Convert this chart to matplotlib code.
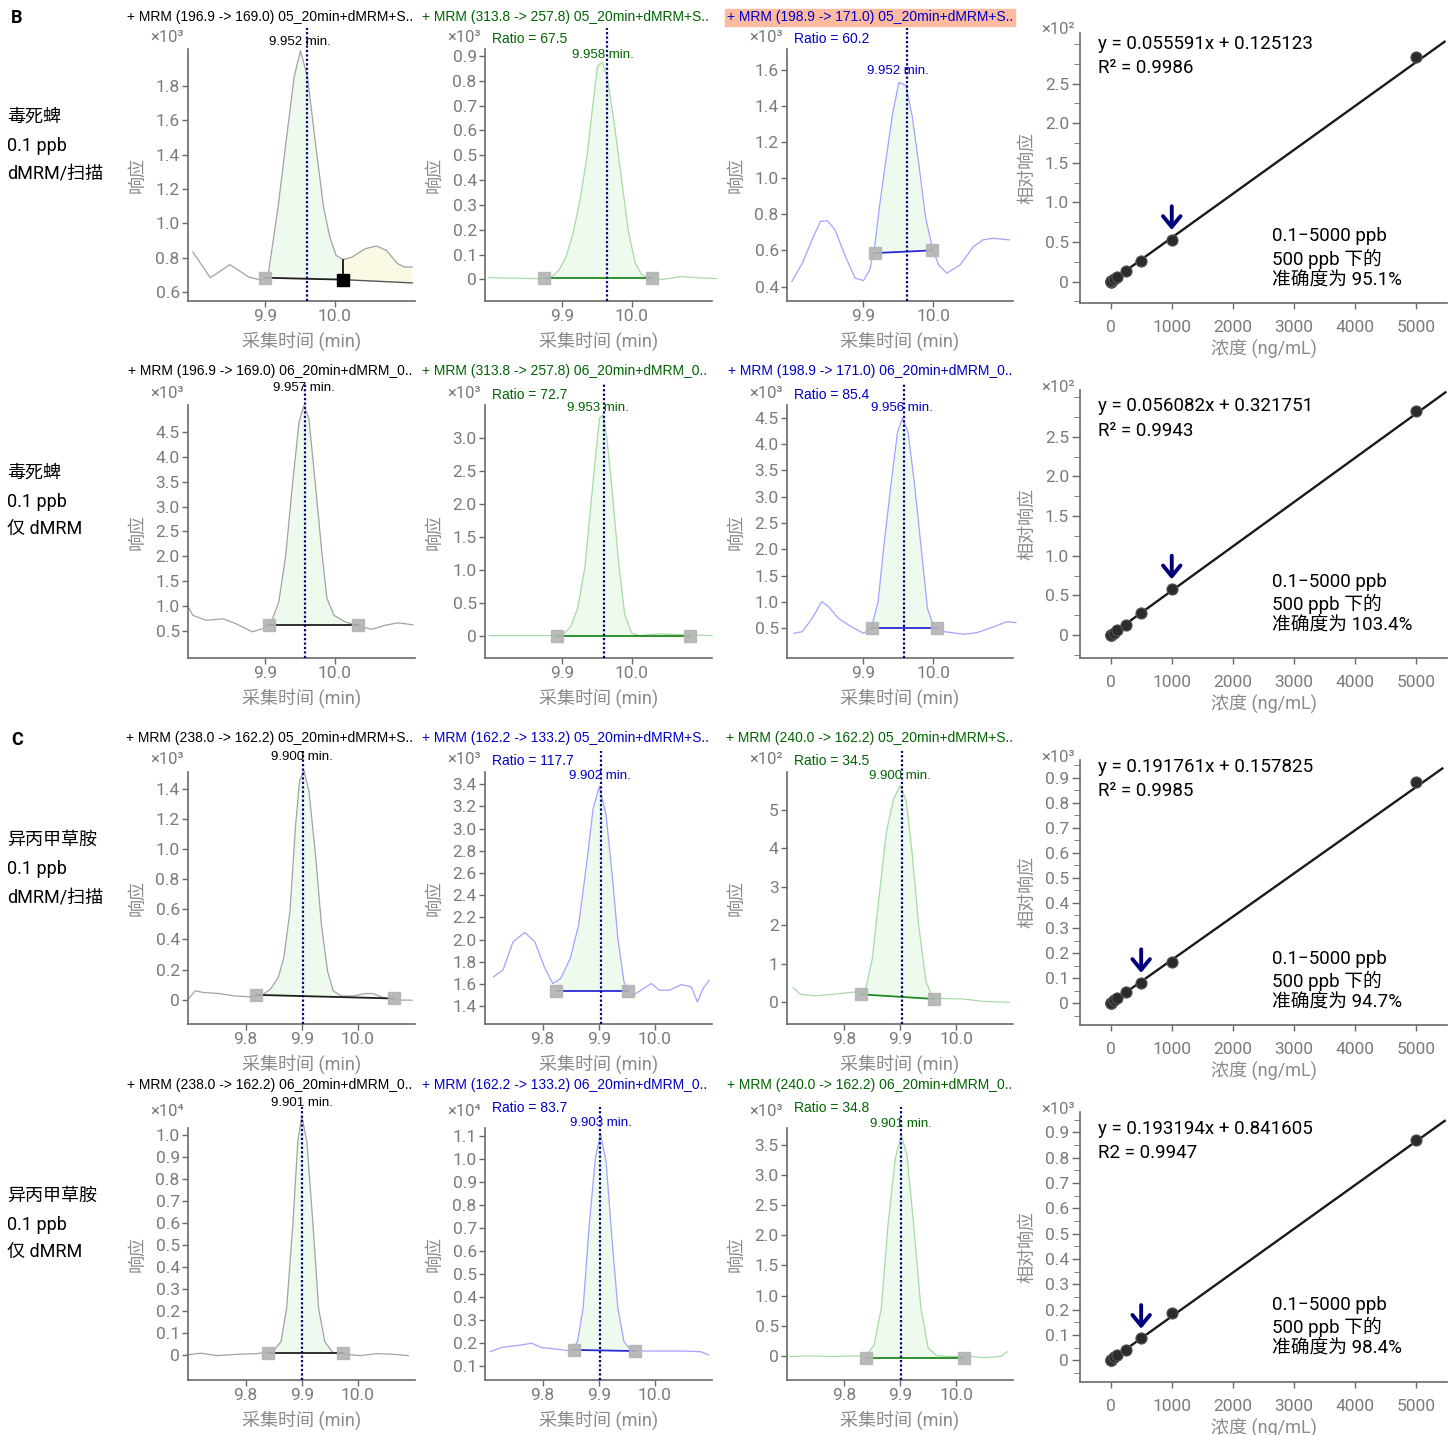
import numpy as np
import matplotlib
matplotlib.use("Agg")
import matplotlib.pyplot as plt
from matplotlib.ticker import MultipleLocator

W, H = 1456, 1435
plt.rcParams["font.family"] = ["Roboto", "Noto Sans CJK SC", "DejaVu Sans"]
NARROW = ["Liberation Sans Narrow", "Liberation Sans", "DejaVu Sans"]

# ---------------- chromatogram traces (time min, response) ----------------
# row 1: chlorpyrifos, dMRM/scan
r1c1_t = [9.797, 9.822, 9.850, 9.877, 9.896, 9.905, 9.919, 9.933, 9.942, 9.951, 9.961, 9.972,
          9.984, 9.993, 10.002, 10.012, 10.025, 10.044, 10.060, 10.074, 10.090, 10.100, 10.111]
r1c1_y = [0.834, 0.685, 0.761, 0.689, 0.670, 0.709, 1.096, 1.561, 1.852, 2.003, 1.852, 1.484,
          1.096, 0.922, 0.815, 0.790, 0.805, 0.854, 0.869, 0.844, 0.767, 0.747, 0.747]
r1c2_t = [9.795, 9.832, 9.866, 9.886, 9.896, 9.906, 9.916, 9.926, 9.936, 9.943, 9.951, 9.958,
          9.965, 9.975, 9.985, 9.995, 10.005, 10.015, 10.027, 10.045, 10.069, 10.094, 10.121]
r1c2_y = [0.007, 0.005, 0.003, 0.011, 0.038, 0.091, 0.185, 0.320, 0.495, 0.669, 0.858, 0.874,
          0.817, 0.629, 0.414, 0.199, 0.065, 0.017, 0.003, 0.0, 0.011, 0.007, 0.003]
r1c3_t = [9.797, 9.812, 9.826, 9.838, 9.848, 9.859, 9.874, 9.888, 9.900, 9.909, 9.916, 9.923,
          9.933, 9.942, 9.951, 9.961, 9.970, 9.980, 9.989, 9.999, 10.008, 10.020, 10.039,
          10.058, 10.072, 10.086, 10.110]
r1c3_y = [0.428, 0.529, 0.658, 0.760, 0.764, 0.714, 0.566, 0.446, 0.433, 0.492, 0.621, 0.843,
          1.120, 1.360, 1.530, 1.512, 1.342, 1.065, 0.788, 0.612, 0.520, 0.474, 0.520,
          0.621, 0.658, 0.667, 0.658]
# row 2: chlorpyrifos, dMRM only
r2c1_t = [9.789, 9.797, 9.816, 9.840, 9.859, 9.882, 9.899, 9.911, 9.920, 9.930, 9.939, 9.949,
          9.956, 9.963, 9.973, 9.982, 9.989, 9.999, 10.015, 10.039, 10.053, 10.072, 10.091, 10.112]
r2c1_y = [1.02, 0.82, 0.72, 0.75, 0.65, 0.49, 0.56, 0.75, 1.09, 2.03, 3.36, 4.70,
          5.02, 4.77, 3.36, 2.03, 1.16, 0.82, 0.69, 0.59, 0.54, 0.62, 0.67, 0.63]
r2c2_t = [9.796, 9.885, 9.904, 9.913, 9.923, 9.933, 9.940, 9.947, 9.954, 9.959, 9.964, 9.971,
          9.981, 9.990, 10.000, 10.010, 10.038, 10.067, 10.115]
r2c2_y = [0.0, 0.0, 0.04, 0.14, 0.43, 1.04, 1.81, 2.58, 3.30, 3.35, 3.04, 2.32,
          1.14, 0.32, 0.04, 0.0, 0.026, 0.015, 0.0]
r2c3_t = [9.800, 9.812, 9.826, 9.840, 9.850, 9.864, 9.883, 9.900, 9.911, 9.921, 9.930, 9.940,
          9.949, 9.956, 9.964, 9.973, 9.982, 9.992, 10.001, 10.016, 10.044, 10.063, 10.087,
          10.106, 10.119]
r2c3_y = [0.41, 0.44, 0.69, 1.01, 0.91, 0.69, 0.53, 0.41, 0.50, 1.01, 2.15, 3.28,
          4.23, 4.49, 4.23, 3.28, 2.15, 0.88, 0.53, 0.44, 0.39, 0.42, 0.53, 0.63, 0.61]
# row 3: metolachlor, dMRM/scan
r3c1_t = [9.697, 9.710, 9.724, 9.752, 9.780, 9.808, 9.830, 9.844, 9.858, 9.868, 9.879, 9.889,
          9.896, 9.904, 9.913, 9.925, 9.935, 9.946, 9.956, 9.970, 9.992, 10.013, 10.027,
          10.048, 10.076, 10.097]
r3c1_y = [0.004, 0.06, 0.049, 0.042, 0.026, 0.02, 0.033, 0.071, 0.148, 0.28, 0.59, 1.16,
          1.45, 1.52, 1.38, 0.94, 0.50, 0.19, 0.06, 0.026, 0.026, 0.042, 0.042,
          0.011, -0.002, -0.002]
r3c2_t = [9.712, 9.729, 9.747, 9.768, 9.786, 9.804, 9.818, 9.832, 9.849, 9.864, 9.878, 9.890,
          9.901, 9.913, 9.924, 9.934, 9.945, 9.955, 9.966, 9.980, 9.994, 10.008, 10.026,
          10.047, 10.065, 10.076, 10.086, 10.097]
r3c2_y = [1.665, 1.725, 1.980, 2.065, 1.980, 1.740, 1.604, 1.650, 1.830, 2.131, 2.672, 3.183,
          3.379, 3.123, 2.582, 2.011, 1.620, 1.484, 1.514, 1.559, 1.605, 1.544, 1.544,
          1.595, 1.574, 1.439, 1.559, 1.635]
r3c3_t = [9.708, 9.721, 9.746, 9.779, 9.804, 9.825, 9.838, 9.850, 9.863, 9.875, 9.888, 9.900,
          9.911, 9.921, 9.933, 9.946, 9.958, 9.979, 10.013, 10.046, 10.096]
r3c3_y = [0.39, 0.21, 0.17, 0.21, 0.25, 0.28, 0.36, 1.14, 2.87, 4.42, 5.28, 5.63,
          5.20, 3.90, 2.00, 0.54, 0.12, 0.10, 0.09, 0.03, 0.0]
# row 4: metolachlor, dMRM only
r4c1_t = [9.693, 9.720, 9.749, 9.784, 9.820, 9.848, 9.863, 9.873, 9.884, 9.893, 9.900, 9.909,
          9.920, 9.930, 9.941, 9.955, 9.977, 10.005, 10.033, 10.062, 10.090]
r4c1_y = [0.0, 0.008, -0.003, 0.003, 0.006, 0.015, 0.061, 0.213, 0.593, 0.973, 1.087, 0.973,
          0.593, 0.213, 0.061, 0.012, 0.003, -0.003, 0.006, 0.003, -0.003]
r4c2_t = [9.706, 9.727, 9.755, 9.780, 9.798, 9.826, 9.851, 9.862, 9.872, 9.883, 9.894, 9.903,
          9.913, 9.923, 9.934, 9.945, 9.957, 9.982, 10.018, 10.053, 10.082, 10.096]
r4c2_y = [0.162, 0.181, 0.189, 0.199, 0.180, 0.173, 0.165, 0.206, 0.351, 0.715, 1.006, 1.110,
          0.991, 0.671, 0.351, 0.206, 0.170, 0.165, 0.165, 0.165, 0.162, 0.148]
r4c3_t = [9.702, 9.739, 9.782, 9.824, 9.840, 9.853, 9.866, 9.878, 9.891, 9.902, 9.912, 9.924,
          9.937, 9.950, 9.966, 9.992, 10.017, 10.050, 10.080, 10.092]
r4c3_y = [-0.01, 0.0, -0.01, 0.0, 0.017, 0.18, 0.79, 2.17, 3.28, 3.66, 3.33, 2.17,
          0.79, 0.13, 0.0, -0.01, 0.0, -0.03, -0.01, 0.07]

traces_t = [r1c1_t, r1c2_t, r1c3_t, r2c1_t, r2c2_t, r2c3_t,
            r3c1_t, r3c2_t, r3c3_t, r4c1_t, r4c2_t, r4c3_t]
traces_y = [r1c1_y, r1c2_y, r1c3_y, r2c1_y, r2c2_y, r2c3_y,
            r3c1_y, r3c2_y, r3c3_y, r4c1_y, r4c2_y, r4c3_y]

titles = ["+ MRM (196.9 -> 169.0) 05_20min+dMRM+S..", "+ MRM (313.8 -> 257.8) 05_20min+dMRM+S..",
          "+ MRM (198.9 -> 171.0) 05_20min+dMRM+S..", "+ MRM (196.9 -> 169.0) 06_20min+dMRM_0..",
          "+ MRM (313.8 -> 257.8) 06_20min+dMRM_0..", "+ MRM (198.9 -> 171.0) 06_20min+dMRM_0..",
          "+ MRM (238.0 -> 162.2) 05_20min+dMRM+S..", "+ MRM (162.2 -> 133.2) 05_20min+dMRM+S..",
          "+ MRM (240.0 -> 162.2) 05_20min+dMRM+S..", "+ MRM (238.0 -> 162.2) 06_20min+dMRM_0..",
          "+ MRM (162.2 -> 133.2) 06_20min+dMRM_0..", "+ MRM (240.0 -> 162.2) 06_20min+dMRM_0.."]
kinds = ["gray", "green", "blue", "gray", "green", "blue",
         "gray", "blue", "green", "gray", "blue", "green"]
rt_text = ["9.952 min.", "9.958 min.", "9.952 min.", "9.957 min.", "9.953 min.", "9.956 min.",
           "9.900 min.", "9.902 min.", "9.900 min.", "9.901 min.", "9.903 min.", "9.901 min."]
rt_at = [(9.950, 2.056), (9.959, 0.905), (9.949, 1.59), (9.956, 5.37), (9.952, 3.45), (9.955, 4.68),
         (9.900, 1.61), (9.902, 3.478), (9.900, 5.87), (9.900, 1.147), (9.903, 1.158), (9.901, 3.84)]
ratio_text = [None, "Ratio = 67.5", "Ratio = 60.2", None, "Ratio = 72.7", "Ratio = 85.4",
              None, "Ratio = 117.7", "Ratio = 34.5", None, "Ratio = 83.7", "Ratio = 34.8"]
exponents = ["3", "3", "3", "3", "3", "3", "3", "3", "2", "4", "4", "3"]
vline_t = [9.961, 9.964, 9.963, 9.958, 9.960, 9.958, 9.902, 9.904, 9.903, 9.900, 9.902, 9.902]
base_t = [(9.900, 10.012), (9.874, 10.029), (9.916, 9.999), (9.906, 10.033), (9.893, 10.084),
          (9.912, 10.006), (9.819, 10.065), (9.823, 9.953), (9.829, 9.960), (9.839, 9.973),
          (9.855, 9.965), (9.839, 10.014)]
base_y = [(0.685, 0.674), (0.004, 0.004), (0.585, 0.600), (0.63, 0.63), (0.0, 0.0),
          (0.50, 0.50), (0.033, 0.009), (1.538, 1.538), (0.21, 0.09), (0.008, 0.008),
          (0.170, 0.165), (-0.03, -0.03)]
# second (unassigned) peak in the first panel
r1c1_extra_t = (10.012, 10.111)
r1c1_extra_y = (0.674, 0.655)

yticks = [[0.6, 0.8, 1.0, 1.2, 1.4, 1.6, 1.8],
          [0, 0.1, 0.2, 0.3, 0.4, 0.5, 0.6, 0.7, 0.8, 0.9],
          [0.4, 0.6, 0.8, 1.0, 1.2, 1.4, 1.6],
          [0.5, 1.0, 1.5, 2.0, 2.5, 3.0, 3.5, 4.0, 4.5],
          [0, 0.5, 1.0, 1.5, 2.0, 2.5, 3.0],
          [0.5, 1.0, 1.5, 2.0, 2.5, 3.0, 3.5, 4.0, 4.5],
          [0, 0.2, 0.4, 0.6, 0.8, 1.0, 1.2, 1.4],
          [1.4, 1.6, 1.8, 2.0, 2.2, 2.4, 2.6, 2.8, 3.0, 3.2, 3.4],
          [0, 1, 2, 3, 4, 5],
          [0, 0.1, 0.2, 0.3, 0.4, 0.5, 0.6, 0.7, 0.8, 0.9, 1.0],
          [0.1, 0.2, 0.3, 0.4, 0.5, 0.6, 0.7, 0.8, 0.9, 1.0, 1.1],
          [0, 0.5, 1.0, 1.5, 2.0, 2.5, 3.0, 3.5]]
ytick_dec = [1, 1, 1, 1, 1, 1, 1, 1, 0, 1, 1, 1]
ylims = [(0.55, 2.013), (-0.087, 0.928), (0.32, 1.714), (-0.035, 5.035), (-0.34, 3.5), (-0.06, 4.74),
         (-0.16, 1.51), (1.24, 3.51), (-0.56, 5.98), (-0.114, 1.033), (0.039, 1.136), (-0.40, 3.78)]
xticks_b = [9.9, 10.0]
xticks_c = [9.8, 9.9, 10.0]
xlim_b = (9.79, 10.115)
xlim_c = (9.697, 10.102)

# ---------------- calibration curves ----------------
conc = [0.1, 1, 5, 10, 50, 100, 250, 500, 1000, 5000]
resp_b1 = [0.0, 0.0, 0.003, 0.006, 0.028, 0.056, 0.13, 0.26, 0.53, 2.84]
resp_b2 = [0.0, 0.001, 0.003, 0.006, 0.03, 0.058, 0.13, 0.28, 0.58, 2.83]
resp_c1 = [0.0, 0.0, 0.001, 0.002, 0.012, 0.02, 0.043, 0.082, 0.165, 0.882]
resp_c2 = [0.0, 0.0, 0.001, 0.002, 0.013, 0.022, 0.041, 0.086, 0.185, 0.871]
calib_resp = [resp_b1, resp_b2, resp_c1, resp_c2]
fit_x = [(0, 5460), (0, 5474), (0, 5423), (0, 5462)]
fit_y = [(0.0, 3.03), (0.0, 3.06), (0.0, 0.936), (0.0, 0.945)]
calib_eq = ["y = 0.055591x + 0.125123", "y = 0.056082x + 0.321751",
            "y = 0.191761x + 0.157825", "y = 0.193194x + 0.841605"]
calib_r2 = ["R² = 0.9986", "R² = 0.9943", "R² = 0.9985", "R2 = 0.9947"]
calib_acc = ["95.1%", "103.4%", "94.7%", "98.4%"]
arrow_conc = [1000, 1000, 500, 500]
calib_exp = ["2", "2", "3", "3"]
calib_yticks = [[0, 0.5, 1.0, 1.5, 2.0, 2.5], [0, 0.5, 1.0, 1.5, 2.0, 2.5],
                [0, 0.1, 0.2, 0.3, 0.4, 0.5, 0.6, 0.7, 0.8, 0.9],
                [0, 0.1, 0.2, 0.3, 0.4, 0.5, 0.6, 0.7, 0.8, 0.9]]
calib_ylims = [(-0.27, 3.14), (-0.29, 3.09), (-0.087, 0.97), (-0.086, 0.98)]
calib_xticks = [0, 1000, 2000, 3000, 4000, 5000]

row_labels = [["毒死蜱", "0.1 ppb", "dMRM/扫描"], ["毒死蜱", "0.1 ppb", "仅 dMRM"],
              ["异丙甲草胺", "0.1 ppb", "dMRM/扫描"], ["异丙甲草胺", "0.1 ppb", "仅 dMRM"]]

# ---------------- layout (pixels) and styles ----------------
col_px = [(188, 415), (485, 712), (787, 1013)]
row_px = [(49, 301), (405, 658), (772, 1024), (1128, 1380)]
calib_px = (1080, 1447)
calib_row_px = [(33, 303), (390, 658), (760, 1025), (1112, 1382)]
title_cx = [270, 565, 870]
title_y = [17, 371, 738, 1085]
ratio_dy = [10, 10, 11, 20]
exp_dy = [12, 12, 12, 16]
row_label_y = [(117, 146, 174), (473, 502, 529), (840, 869, 897), (1196, 1225, 1252)]
eq_y = [(44, 68), (406, 431), (767, 791), (1129, 1153)]
acc_y = [(236, 259, 281), (582, 604, 626), (959, 981, 1003), (1305, 1327, 1349)]

styles = {
    "gray": dict(trace="#a3a3a3", base="#1e1e1e", text="black"),
    "green": dict(trace="#a6dba6", base="#1d8a1d", text="#006400"),
    "blue": dict(trace="#a3a3ff", base="#2a2ad6", text="#0000c8"),
}
FILL = "#eefaee"
TICK_C = "#7b7b7b"
SPINE_C = "#6a6a6a"
NAVY = "#00007a"

fig = plt.figure(figsize=(W / 100, H / 100), dpi=100)
fig.patch.set_facecolor("white")


def px_rect(l, t, r, b):
    return [l / W, 1 - b / H, (r - l) / W, (b - t) / H]


def ftext(x, y, s, **kw):
    return fig.text(x / W, 1 - y / H, s, **kw)


def fmt(v, d):
    return "0" if abs(v) < 1e-12 else f"{v:.{d}f}"


def style_axes(ax):
    for side in ["top", "right"]:
        ax.spines[side].set_visible(False)
    for side in ["left", "bottom"]:
        ax.spines[side].set_color(SPINE_C)
        ax.spines[side].set_linewidth(1.2)
    ax.tick_params(axis="both", colors=SPINE_C, labelcolor=TICK_C, labelsize=12.5,
                   length=4, width=1, pad=2)


def fill_peak(ax, tt, yy, t0, t1, y0, y1, color):
    inside = (tt > t0) & (tt < t1)
    px = np.r_[t0, t0, tt[inside], t1, t1]
    py = np.r_[y0, np.interp(t0, tt, yy), yy[inside], np.interp(t1, tt, yy), y1]
    ax.fill(px, py, color=color, lw=0, zorder=1, clip_on=False)


# salmon header behind the highlighted channel
fig.add_artist(plt.Rectangle((725 / W, 1 - 26 / H), 290 / W, 17 / H,
                             transform=fig.transFigure, color="#ffbb9f", zorder=0))

for i in range(12):
    row, col = divmod(i, 3)
    l, r = col_px[col]
    t, b = row_px[row]
    st = styles[kinds[i]]
    ax = fig.add_axes(px_rect(l, t, r, b))
    style_axes(ax)
    tt = np.array(traces_t[i])
    yy = np.array(traces_y[i])
    (t0, t1), (y0, y1) = base_t[i], base_y[i]

    fill_peak(ax, tt, yy, t0, t1, y0, y1, FILL)
    if i == 0:
        e0, e1 = r1c1_extra_t
        fill_peak(ax, tt, yy, e0, e1, r1c1_extra_y[0], r1c1_extra_y[1], "#fafae4")
        ax.plot(r1c1_extra_t, r1c1_extra_y, color="#555555", lw=1.0, zorder=3)
        ax.plot([e0, e0], [r1c1_extra_y[0], np.interp(e0, tt, yy)], color="black", lw=1.2, zorder=3)
    ax.plot(tt, yy, color=st["trace"], lw=0.9, zorder=2, clip_on=False)
    ax.plot([t0, t1], [y0, y1], color=st["base"], lw=1.3, zorder=3)
    ax.plot([t0], [y0], "s", ms=8, color="#b3b3b3", alpha=0.9, zorder=4)
    if i == 0:
        ax.plot([t1], [y1], "s", ms=9, color="black", zorder=4)
    else:
        ax.plot([t1], [y1], "s", ms=8, color="#b3b3b3", alpha=0.9, zorder=4)
    ax.axvline(vline_t[i], ymin=0, ymax=1.085, color=NAVY, lw=1.6, ls=(0, (1, 1)),
               clip_on=False, zorder=5)

    ax.set_xlim(*(xlim_b if row < 2 else xlim_c))
    ax.set_xticks(xticks_b if row < 2 else xticks_c)
    ax.set_xticklabels([f"{v:.1f}" for v in (xticks_b if row < 2 else xticks_c)])
    ax.set_ylim(*ylims[i])
    ax.set_yticks(yticks[i])
    ax.set_yticklabels([fmt(v, ytick_dec[i]) for v in yticks[i]])

    ax.text(rt_at[i][0], rt_at[i][1], rt_text[i], ha="center", va="center", fontsize=9.5,
            family=NARROW, color=st["text"], zorder=6)
    ftext(title_cx[col], title_y[row], titles[i], ha="center", va="center", fontsize=10,
          family=NARROW, color=st["text"])
    ftext(l - 4, t - exp_dy[row], "×10" + "⁰¹²³⁴"[int(exponents[i])], ha="right", va="center",
          fontsize=12, color=TICK_C, family=["Roboto", "DejaVu Sans"])
    if ratio_text[i]:
        ftext(l + 7, t - ratio_dy[row], ratio_text[i], ha="left", va="center", fontsize=10,
              family=NARROW, color=st["text"])
    ftext(l - 51, (t + b) / 2, "响应", rotation=90, ha="center", va="center",
          fontsize=13, color="#8a8a8a")
    ftext((l + r) / 2, b + 40, "采集时间 (min)", ha="center", va="center",
          fontsize=13, color="#8a8a8a")

# calibration panels
for k in range(4):
    l, r = calib_px
    t, b = calib_row_px[k]
    ax = fig.add_axes(px_rect(l, t, r, b))
    style_axes(ax)
    ax.plot(fit_x[k], fit_y[k], color="#1a1a1a", lw=1.7, zorder=2)
    ax.plot(conc, calib_resp[k], "o", ms=8, color="#2b2b2b", mec="#555555", mew=0.8, zorder=3)
    ya = calib_resp[k][conc.index(arrow_conc[k])]
    ax.annotate("", xy=(arrow_conc[k], ya), xytext=(0, 24), textcoords="offset points",
                arrowprops=dict(arrowstyle="->,head_length=0.55,head_width=0.45", lw=2.8,
                                color=NAVY, shrinkA=0, shrinkB=7, mutation_scale=14))
    ax.set_xlim(-500, 5500)
    ax.set_xticks(calib_xticks)
    ax.set_xticklabels([str(v) for v in calib_xticks])
    ax.tick_params(axis="x", pad=8)
    ax.set_ylim(*calib_ylims[k])
    ax.set_yticks(calib_yticks[k])
    ax.set_yticklabels([fmt(v, 1) for v in calib_yticks[k]])
    ax.yaxis.set_minor_locator(MultipleLocator(0.25 if k < 2 else 0.05))
    ax.tick_params(axis="y", which="minor", length=4, color=SPINE_C)
    ax.tick_params(axis="y", which="major", length=6)

    ftext(l - 5, t - 3, "×10" + "⁰¹²³⁴"[int(calib_exp[k])], ha="right", va="center",
          fontsize=12, color=TICK_C, family=["Roboto", "DejaVu Sans"])
    ftext(1098, eq_y[k][0], calib_eq[k], ha="left", va="center", fontsize=13.5, color="black")
    ftext(1098, eq_y[k][1], calib_r2[k], ha="left", va="center", fontsize=13.5, color="black")
    ftext(1272, acc_y[k][0], "0.1−5000 ppb", ha="left", va="center", fontsize=13.5)
    ftext(1272, acc_y[k][1], "500 ppb 下的", ha="left", va="center", fontsize=13.5)
    ftext(1272, acc_y[k][2], "准确度为 " + calib_acc[k], ha="left", va="center", fontsize=13.5)
    ftext(1027, (t + b) / 2, "相对响应", rotation=90, ha="center", va="center",
          fontsize=13, color="#8a8a8a")
    ftext((l + r) / 2, b + 45, "浓度 (ng/mL)", ha="center", va="center",
          fontsize=13, color="#8a8a8a")

# row labels and panel letters
ftext(11, 18, "B", fontsize=13, fontweight="bold", ha="left", va="center")
ftext(11, 740, "C", fontsize=13, fontweight="bold", ha="left", va="center")
for row in range(4):
    for j in range(3):
        ftext(7, row_label_y[row][j], row_labels[row][j], ha="left", va="center", fontsize=13)

fig.savefig("out.png", dpi=100)
